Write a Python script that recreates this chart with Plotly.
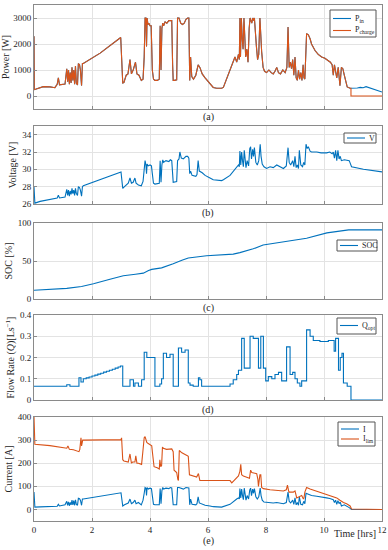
import plotly.graph_objects as go

# ---------------- data ----------------
# Panel (a): power
t_pow = [0, 0.01, 0.05, 0.21, 0.32, 0.55, 0.67, 0.72, 0.80, 0.84, 0.88, 0.95, 1.07,
         1.13, 1.16, 1.19, 1.22, 1.25, 1.28, 1.31, 1.34, 1.37, 1.40, 1.43, 1.46, 1.50, 1.53, 1.57, 1.60, 1.64, 1.67, 1.70,
         2.28, 2.99, 3.02, 3.06,
         3.10, 3.18, 3.24, 3.31, 3.36, 3.42, 3.50, 3.55, 3.62, 3.70, 3.76, 3.80,
         3.83, 3.86, 3.88, 3.90, 3.93, 3.96, 4.00, 4.04, 4.08, 4.12, 4.17,
         4.25, 4.32, 4.35, 4.38, 4.41, 4.44, 4.47, 4.52, 4.58, 4.65, 4.70, 4.75, 4.78, 4.80,
         4.85, 4.92, 4.95, 5.00, 5.06, 5.12, 5.18, 5.24, 5.30, 5.34, 5.37,
         5.40, 5.44, 5.50, 5.58, 5.66, 5.72, 5.80, 5.90, 6.07, 6.18, 6.30, 6.47, 6.53, 6.70, 6.93,
         6.99, 7.05, 7.08, 7.10, 7.12, 7.15, 7.18, 7.21, 7.24, 7.27, 7.30, 7.34, 7.38, 7.42, 7.45, 7.48, 7.51, 7.54, 7.57, 7.60, 7.63, 7.67, 7.71, 7.75, 7.79, 7.82, 7.85, 7.90, 7.95,
         8.02, 8.10, 8.18, 8.25, 8.31, 8.37, 8.43, 8.50, 8.58, 8.66, 8.72, 8.76, 8.80, 8.84, 8.88, 8.92, 8.96, 9.00, 9.04, 9.08, 9.12, 9.16, 9.20, 9.24, 9.28, 9.31, 9.34, 9.37,
         9.40, 9.46, 9.52, 9.57, 9.63, 9.69, 9.80, 9.92, 10.03, 10.15, 10.22, 10.28, 10.32, 10.36, 10.40, 10.44, 10.49, 10.55, 10.60, 10.65, 10.70, 10.75, 10.80, 10.90]
p_common = [2300, 250, 260, 330, 360, 350, 330, 320, 450, 700, 430, 440, 460,
            1050, 550, 1000, 450, 900, 500, 1100, 600, 1000, 450, 1150, 500, 420, 1250, 1200, 1000, 400, 1250, 1250,
            1650, 2250, 1200, 500,
            520, 800, 850, 1400, 850, 1000, 1300, 850, 800, 600, 650, 1500,
            3000, 3000, 1900, 3000, 2750, 2800, 2700, 2700, 1000, 650, 600,
            600, 650, 2700, 1000, 2600, 2800, 2700, 2850, 2800, 2900, 2900, 2900, 1200, 600,
            600, 620, 3000, 3000, 2800, 2750, 2800, 2950, 3000, 3000, 600,
            1500, 750, 650, 800, 1200, 1100, 850, 700, 500, 330, 300, 300, 330, 800, 1500,
            1300, 1600, 1400, 3000, 1500, 3000, 2200, 1800, 3000, 2300, 1500, 1800, 1300, 2600, 3000, 2900, 2800, 3000, 2900, 3000, 2400, 1900, 1400, 1600, 3000, 2000, 1700, 1100, 950,
            900, 1000, 900, 850, 950, 1100, 900, 850, 1000, 900, 1100, 2650, 1100, 1300, 1050, 1400, 800, 1500, 700, 600, 1000, 650, 900, 600, 1200, 700, 650, 1300,
            2400, 2350, 2200, 2000, 1850, 1750, 1600, 1500, 1450, 1350, 1300, 1200, 800, 1200, 1000, 700, 1100, 400, 1100, 1050, 800, 500, 350, 300]
t_pin_tail = [10.95, 11.05, 11.15, 11.25, 11.35, 11.45, 11.55, 11.70, 11.85, 12.0]
p_in_tail = [300, 320, 310, 330, 320, 360, 320, 270, 220, 150]
t_pch_tail = [10.93, 10.93, 12.0]
p_ch_tail = [300, 0, 0]

# Panels (b) and (e): voltage and current share a time grid
t_vi = [0, 0.01, 0.03, 0.21, 0.55, 0.72, 0.80, 0.84, 0.88, 1.07,
        1.13, 1.16, 1.19, 1.22, 1.25, 1.28, 1.31, 1.34, 1.37, 1.40, 1.43, 1.46, 1.50, 1.53, 1.57, 1.60, 1.64, 1.67, 1.70,
        3.00, 3.02, 3.06, 3.12, 3.20, 3.25, 3.31, 3.36, 3.42, 3.48, 3.52, 3.60, 3.70, 3.76, 3.80,
        3.83, 3.86, 3.88, 3.90, 3.94, 4.00, 4.05, 4.08, 4.12, 4.17,
        4.32, 4.35, 4.38, 4.41, 4.44, 4.47, 4.55, 4.65, 4.70, 4.75, 4.78, 4.80,
        4.92, 4.95, 5.00, 5.03, 5.08, 5.15, 5.24, 5.30, 5.34, 5.37,
        5.40, 5.45, 5.58, 5.62, 5.66, 5.70, 5.80, 5.90, 6.07, 6.18, 6.47, 6.53, 6.76, 6.99,
        7.05, 7.08, 7.10, 7.13, 7.16, 7.19, 7.22, 7.25, 7.28, 7.31, 7.35, 7.40, 7.44, 7.47, 7.50, 7.54, 7.57, 7.60, 7.65, 7.70, 7.75, 7.80, 7.83, 7.87, 7.93,
        8.02, 8.14, 8.25, 8.37, 8.48, 8.60, 8.70, 8.76, 8.80, 8.85, 8.92, 8.96, 9.00, 9.04, 9.08, 9.12, 9.15, 9.20, 9.26, 9.30, 9.34,
        9.38, 9.42, 9.46, 9.52, 9.57, 9.75, 9.90, 10.09, 10.20, 10.28, 10.32, 10.36, 10.40, 10.44, 10.48, 10.52, 10.56, 10.60, 10.70, 10.87, 10.95, 11.36, 12]
volt = [28.0, 26.5, 26.1, 26.3, 26.5, 26.6, 26.7, 27.0, 26.7, 26.8,
        27.7, 27.0, 27.6, 26.9, 27.5, 27.1, 27.8, 27.2, 27.6, 27.0, 27.8, 27.2, 27.0, 28.0, 27.9, 27.6, 26.9, 28.0, 28.1,
        29.7, 28.8, 27.8, 28.0, 28.3, 28.4, 29.0, 28.4, 28.5, 29.0, 28.4, 28.2, 28.1, 28.6, 30.0,
        31.0, 30.5, 29.5, 30.6, 30.4, 30.5, 30.4, 29.5, 28.4, 28.3,
        28.4, 31.0, 28.5, 30.5, 31.1, 30.8, 31.0, 30.9, 31.1, 31.0, 29.0, 28.5,
        28.6, 31.0, 31.2, 32.0, 31.3, 31.2, 31.5, 31.5, 31.3, 29.5,
        29.8, 29.3, 29.2, 29.4, 31.0, 29.8, 29.6, 29.3, 29.0, 28.8, 28.7, 28.8, 29.3, 30.2,
        30.5, 30.3, 32.1, 30.5, 32.0, 31.0, 30.3, 32.2, 30.8, 30.2, 31.0, 30.4, 32.4, 32.6, 31.2, 32.3, 31.5, 32.5, 30.8, 30.5, 31.0, 32.9, 31.5, 30.6, 30.3,
        30.1, 30.3, 30.2, 30.5, 30.3, 30.1, 30.4, 32.5, 30.8, 30.5, 31.0, 30.3, 31.5, 30.2, 30.5, 30.1, 32.2, 30.5, 30.3, 30.8, 30.5,
        32.9, 32.4, 32.6, 32.1, 32.0, 32.0, 31.9, 31.9, 32.0, 31.8, 32.0, 31.3, 32.2, 31.0, 32.2, 31.2, 31.5, 31.0, 31.1, 31.0, 30.3, 30.0, 29.7]
current = [75, 20, 10, 11, 12, 13, 14, 22, 15, 20,
           35, 18, 33, 16, 30, 20, 40, 20, 38, 18, 42, 22, 18, 48, 46, 40, 18, 45, 45,
           72, 40, 15, 20, 25, 28, 45, 25, 30, 40, 25, 30, 20, 40, 70,
           95, 92, 60, 95, 88, 92, 90, 60, 22, 20,
           20, 90, 25, 80, 95, 88, 92, 90, 95, 93, 40, 20,
           20, 95, 95, 93, 90, 88, 95, 95, 93, 20,
           45, 22, 20, 25, 55, 28, 22, 18, 15, 12, 10, 12, 22, 45,
           50, 45, 90, 50, 88, 60, 42, 92, 55, 40, 60, 45, 85, 92, 60, 88, 70, 90, 55, 45, 55, 92, 60, 40, 32,
           30, 30, 28, 30, 28, 25, 30, 75, 35, 28, 40, 22, 50, 20, 30, 18, 55, 22, 20, 35, 25,
           70, 68, 65, 62, 60, 57, 55, 50, 47, 45, 42, 30, 40, 22, 38, 25, 32, 15, 20, 8, 0, 0, 0]

# Panel (c): state of charge
t_soc = [0, 0.6, 1.13, 1.64, 2.05, 2.62, 3.08, 3.50, 3.77, 3.95, 4.06, 4.40, 4.65, 4.80,
         5.10, 5.32, 5.95, 6.60, 6.87, 7.10, 7.56, 7.90, 8.60, 9.40, 10.10, 10.50, 10.85, 12]
soc = [11.5, 12.5, 14, 16.5, 20, 26, 30.5, 32.5, 34, 37.5, 39, 41, 45, 46.5,
       51, 54, 57, 58, 59, 61, 66, 71, 75, 80, 87, 89.5, 91, 91]

# Panel (d): optimal flow rate (step changes)
t_q = [0, 1.13, 1.24, 1.55, 1.62, 1.70,
       1.80, 1.90, 2.00, 2.10, 2.20, 2.30, 2.40, 2.50, 2.60, 2.70, 2.80, 2.90, 2.98,
       3.06, 3.31, 3.43, 3.48, 3.60, 3.71, 3.80, 3.89, 4.17, 4.34, 4.40, 4.46, 4.57, 4.69, 4.80,
       4.98, 5.09, 5.21, 5.32, 5.38, 5.49, 5.67, 5.72, 5.78, 6.76, 6.87, 6.99, 7.05, 7.16, 7.25,
       7.45, 7.56, 7.74, 7.82, 7.91, 7.99, 8.08, 8.20, 8.31, 8.43, 8.54, 8.71, 8.83, 8.92, 9.00,
       9.08, 9.17, 9.23, 9.40, 9.52, 9.63, 9.86, 10.15, 10.35, 10.40, 10.50, 10.56, 10.62, 10.67,
       10.80, 10.93, 12]
q_opt = [0.065, 0.072, 0.065, 0.105, 0.085, 0.100,
         0.104, 0.108, 0.113, 0.117, 0.122, 0.126, 0.131, 0.135, 0.140, 0.145, 0.150, 0.155, 0.160,
         0.065, 0.095, 0.065, 0.080, 0.065, 0.095, 0.225, 0.200, 0.065, 0.075, 0.100, 0.220, 0.200, 0.215, 0.065,
         0.245, 0.225, 0.235, 0.080, 0.070, 0.065, 0.105, 0.095, 0.065, 0.075, 0.095, 0.120, 0.140, 0.290, 0.150,
         0.300, 0.290, 0.150, 0.300, 0.150, 0.090, 0.110, 0.100, 0.120, 0.130, 0.090, 0.250, 0.120, 0.130, 0.100,
         0.080, 0.065, 0.090, 0.330, 0.300, 0.280, 0.275, 0.280, 0.230, 0.290, 0.140, 0.200, 0.220, 0.080,
         0.065, 0.0, 0.0]

# Panel (e): current limit
t_lim = [0, 0.01, 0.03, 0.55, 0.84, 1.13, 1.17, 1.22, 1.36, 1.47, 1.55, 1.58, 1.62, 1.64, 1.68, 1.72, 2.28,
         3.00, 3.02, 3.06, 3.10, 3.25, 3.31, 3.36, 3.40, 3.48, 3.51, 3.55, 3.60, 3.71, 3.75, 3.80,
         3.83, 3.89, 3.94, 4.00, 4.06, 4.09, 4.14, 4.25, 4.32, 4.34, 4.37, 4.40, 4.43, 4.46, 4.57,
         4.75, 4.80, 4.83, 4.92, 4.96, 4.98, 5.01, 5.10, 5.29, 5.32, 5.36, 5.50, 5.61, 5.67, 5.72,
         6.20, 6.76, 6.82, 6.93, 7.05, 7.10, 7.13, 7.16, 7.22, 7.43, 7.47, 7.51, 7.68, 7.72, 7.74,
         7.79, 7.82, 7.85, 7.91, 8.14, 8.60, 8.70, 8.74, 8.78, 8.80, 8.94, 9.00, 9.06, 9.17, 9.23,
         9.29, 9.31, 9.34, 9.38, 9.40, 9.52, 9.86, 10.21, 10.44, 10.55, 10.67, 10.78, 10.90, 10.95, 12]
i_lim = [400, 290, 282, 276, 270, 265, 275, 260, 258, 255, 250, 260, 310, 275, 300, 300, 302,
         302, 310, 215, 210, 205, 240, 200, 205, 205, 232, 200, 200, 195, 245, 310,
         315, 290, 285, 280, 275, 240, 185, 180, 175, 215, 185, 190, 270, 265, 260,
         262, 250, 170, 160, 130, 125, 255, 245, 232, 230, 150, 145, 140, 155, 125,
         125, 125, 115, 130, 145, 165, 195, 150, 145, 135, 170, 160, 155, 130, 100,
         150, 150, 95, 90, 85, 80, 85, 105, 80, 75, 75, 80, 50, 55, 60, 45,
         50, 75, 90, 95, 88, 75, 60, 50, 40, 30, 25, 15, 2, 0]

x_ticks = [0, 2, 4, 6, 8, 10, 12]
panel_labels = ["(a)", "(b)", "(c)", "(d)", "(e)"]

# ---------------- figure ----------------
BLUE = "#0072BD"
ORANGE = "#D95319"
FONT = "Liberation Serif"
TXT = "#262626"
LW = 1.1

fig = go.Figure()
fig.add_trace(go.Scatter(x=t_pow + t_pin_tail, y=p_common + p_in_tail, mode="lines",
                         line=dict(color=BLUE, width=LW), name="P_in", xaxis="x", yaxis="y"))
fig.add_trace(go.Scatter(x=t_pow + t_pch_tail, y=p_common + p_ch_tail, mode="lines",
                         line=dict(color=ORANGE, width=LW), name="P_charge", xaxis="x", yaxis="y"))
fig.add_trace(go.Scatter(x=t_vi, y=volt, mode="lines", line=dict(color=BLUE, width=LW),
                         name="V", xaxis="x2", yaxis="y2"))
fig.add_trace(go.Scatter(x=t_soc, y=soc, mode="lines", line=dict(color=BLUE, width=LW),
                         name="SOC", xaxis="x3", yaxis="y3"))
fig.add_trace(go.Scatter(x=t_q, y=q_opt, mode="lines", line=dict(color=BLUE, width=LW, shape="hv"),
                         name="Q_opt", xaxis="x4", yaxis="y4"))
fig.add_trace(go.Scatter(x=t_vi, y=current, mode="lines", line=dict(color=BLUE, width=LW),
                         name="I", xaxis="x5", yaxis="y5"))
fig.add_trace(go.Scatter(x=t_lim, y=i_lim, mode="lines", line=dict(color=ORANGE, width=LW),
                         name="I_lim", xaxis="x5", yaxis="y5"))

L_PX, R_PX = 34, 382
TOP_PX, BOT_PX = 5, 521


def fx(px):
    return (px - L_PX) / (R_PX - L_PX)


def fy(py):
    return (BOT_PX - py) / (BOT_PX - TOP_PX)


panels = [(5, 109), (126, 204), (223, 299), (315, 400), (417, 521)]
y_cfg = [
    dict(range=[-500, 3500], tickvals=[0, 1000, 2000, 3000], title="Power [W]"),
    dict(range=[26, 35], tickvals=[26, 28, 30, 32, 34], title="Voltage [V]"),
    dict(range=[0, 100], tickvals=[0, 50, 100], title="SOC [%]"),
    dict(range=[0, 0.4], tickvals=[0, 0.1, 0.2, 0.3, 0.4], title="Flow Rate (<i>Q</i>)[Ls<sup>−1</sup>]"),
    dict(range=[-50, 400], tickvals=[0, 100, 200, 300, 400], title="Current [A]"),
]

axis_common = dict(showgrid=True, gridcolor="#e3e3e3", gridwidth=1, showline=True,
                   linecolor="#8a8a8a", linewidth=1, mirror=True, ticks="inside", ticklen=3,
                   tickcolor="#8a8a8a", zeroline=False, automargin=False,
                   tickfont=dict(family=FONT, size=9, color=TXT))

layout = dict(width=388, height=550,
              margin=dict(l=L_PX, r=388 - R_PX, t=TOP_PX, b=550 - BOT_PX, pad=0, autoexpand=False),
              paper_bgcolor="white", plot_bgcolor="white", showlegend=False,
              font=dict(family=FONT, size=10, color=TXT))

for i, ((ptop, pbot), yc) in enumerate(zip(panels, y_cfg)):
    k = "" if i == 0 else str(i + 1)
    layout["xaxis" + k] = dict(axis_common, range=[0, 12], tickvals=x_ticks,
                               showticklabels=(i == 4), anchor="y" + k, domain=[0, 1])
    layout["yaxis" + k] = dict(axis_common, range=yc["range"], tickvals=yc["tickvals"],
                               domain=[fy(pbot), fy(ptop)], anchor="x" + k,
                               title=dict(text=yc["title"], standoff=3,
                                          font=dict(family=FONT, size=10, color=TXT)))

# hand-drawn legend boxes (MATLAB style)
legend_boxes = [(330, 10, 376, 37), (344, 133, 376, 143), (337, 240, 377, 251),
                (337, 318, 376, 334), (338, 422, 375, 446)]
legend_entries = [
    [(18.5, BLUE, "P<sub>in</sub>"), (30.5, ORANGE, "P<sub>charge</sub>")],
    [(138, BLUE, "V")],
    [(245.5, BLUE, "SOC")],
    [(325.5, BLUE, "Q<sub>opt</sub>")],
    [(429, BLUE, "I"), (439, ORANGE, "I<sub>lim</sub>")],
]
shapes = []
annotations = []
for (x0, y0, x1, y1), entries in zip(legend_boxes, legend_entries):
    shapes.append(dict(type="rect", xref="paper", yref="paper", x0=fx(x0), x1=fx(x1),
                       y0=fy(y1), y1=fy(y0), line=dict(color="#555555", width=1),
                       fillcolor="white", layer="above"))
    for ly, col, lab in entries:
        shapes.append(dict(type="line", xref="paper", yref="paper", x0=fx(x0 + 3), x1=fx(x0 + 21),
                           y0=fy(ly), y1=fy(ly), line=dict(color=col, width=LW), layer="above"))
        annotations.append(dict(text=lab, x=fx(x0 + 23), y=fy(ly), xref="paper", yref="paper",
                                showarrow=False, xanchor="left", yanchor="middle",
                                font=dict(family=FONT, size=8, color=TXT)))

label_px = [117, 213, 308, 410, 541]
for lab, ypx in zip(panel_labels, label_px):
    annotations.append(dict(text=lab, x=0.5, y=fy(ypx), xref="paper", yref="paper",
                            showarrow=False, xanchor="center", yanchor="middle",
                            font=dict(family=FONT, size=10, color=TXT)))
annotations.append(dict(text="Time [hrs]", x=fx(378), y=fy(533), xref="paper", yref="paper",
                        showarrow=False, xanchor="right", yanchor="middle",
                        font=dict(family=FONT, size=10, color=TXT)))
layout["annotations"] = annotations
layout["shapes"] = shapes

fig.update_layout(**layout)
fig.write_html("out.html", config={"displayModeBar": False},
               post_script="document.body.style.margin='0';document.body.style.overflow='hidden';")
